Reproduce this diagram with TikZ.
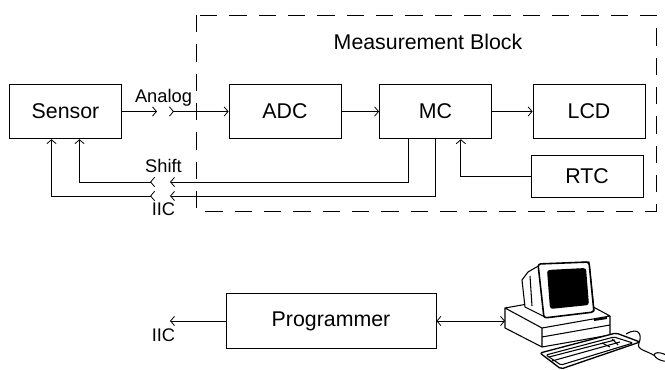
\documentclass[tikz,border=0pt]{standalone}
\usepackage{fontspec}
\setmainfont{Liberation Sans}
\usetikzlibrary{arrows.meta}

\begin{document}
\begin{tikzpicture}[x=0.75pt, y=-0.75pt]
		\tikzset{
			every node/.style={
				font=\fontsize{16}{19}\selectfont,
				inner sep=0pt
			},
			block/.style={
				draw,
				rectangle,
				line width=0.6pt,
				minimum width=84pt,
				minimum height=41pt
			},
			sig/.style={
				font=\fontsize{13.7}{16}\selectfont,
				anchor=base
			},
			wire/.style={
				line width=0.6pt,
				-{Straight Barb[length=3pt, width=7pt]}
			},
			plug/.style={
				line width=0.6pt,
				{Straight Barb[reversed, length=3pt, width=7pt]}-{Straight Barb[length=3pt, width=7pt]}
			},
			both/.style={
				line width=0.6pt,
				{Straight Barb[length=3pt, width=7pt]}-{Straight Barb[length=3pt, width=7pt]}
			},
			frame/.style={
				line width=0.6pt,
				dash pattern=on 13pt off 9pt
			}
		}

		\useasboundingbox (0,0) rectangle (665,370);

		% measurement block
		\draw[frame] (196,15) rectangle (656,211);
		\node[anchor=base] (title) at (428,50)
			{Measurement Block};

		\node[block] (sensor) at (65.5, 111.5)
			{Sensor};
		\node[block] (adc) at (285, 111.5)
			{ADC};
		\node[block] (mc) at (435.5, 111.5)
			{MC};
		\node[block] (lcd) at (589, 111.5)
			{LCD};
		\node[block, minimum height=31.5pt] (rtc) at (587, 176)
			{RTC};

		\node[block, minimum width=157.5pt] (prog) at (331, 321)
			{Programmer};

		% break points of the cables
		\coordinate (ana-a) at (157, 111.5);
		\coordinate (ana-b) at (169, 111.5);
		\coordinate (shift-a) at (170, 182);
		\coordinate (shift-b) at (155, 182);
		\coordinate (iic-a) at (170, 196);
		\coordinate (iic-b) at (155, 196);
		\coordinate (prog-iic) at (170, 321);
		\coordinate (pc) at (505, 321);

		\node[sig] (analog) at (163.5, 103)
			{Analog};
		\node[sig] (shift) at (163.5, 173)
			{Shift};
		\node[sig] (iic) at (163.5, 216)
			{IIC};
		\node[sig] (iic2) at (163.5, 342)
			{IIC};

		\draw[wire] (sensor) -- (ana-a);
		\draw[plug] (ana-b) -- (adc);
		\draw[wire] (adc) -- (mc);
		\draw[wire] (mc) -- (lcd);
		\draw[wire] (rtc) -| ([xshift=19pt]mc.south);

		\draw[wire] ([xshift=-20.5pt]mc.south) |- (shift-a);
		\draw[plug] (shift-b) -| ([xshift=10.5pt]sensor.south);
		\draw[wire] (mc.south) |- (iic-a);
		\draw[plug] (iic-b) -| ([xshift=-10.5pt]sensor.south);

		\draw[wire] (prog) -- (prog-iic);
		\draw[both] (prog) -- (pc);

		% computer
		\begin{scope}[line width=0.8pt, line join=round]
			% system unit
			\draw[fill=white] (505,308) -- (542,328) -- (610,316) -- (573,296) -- cycle;
			\draw (505,308) -- (505,328) -- (542,347) -- (542,328);
			\draw (542,347) -- (610,335) -- (610,316);
			\draw (542,337) -- (610,325);
			\draw[line width=1.5pt] (594,320) -- (607,318);
			% monitor casing
			\draw[fill=white] (540,265) -- (528,272) -- (522,280) -- (525,307) -- (545,317) -- (594,311) -- (589,262) -- cycle;
			\draw (530,276) -- (532,306);
			% bezel and screen
			\draw[fill=white, rounded corners=2pt, line width=1.2pt] (538,264) -- (589,262) -- (594,312) -- (544,318) -- cycle;
			\fill[rounded corners=2pt] (547,270) -- (586,268) -- (589,305) -- (550,309) -- cycle;
			% keyboard
			\draw[fill=white, rounded corners=1.5pt, line width=1pt] (540,353) -- (616,333) -- (640,342) -- (561,369) -- cycle;
			\draw[rounded corners=1pt] (546,355) -- (614,337) -- (633,343) -- (561,365) -- cycle;
			\draw (549,357) -- (615,340);
			\draw (552,361) -- (620,342);
			\draw (602,343) -- (610,347);
			\draw (612,339) -- (618,345);
			% mouse and cable
			\draw (626,334) .. controls (640,326) and (642,336) .. (639,343)
				.. controls (636,350) and (646,350) .. (655,356);
			\draw[fill=white, rotate around={-20:(662,357)}] (662,357) ellipse (8 and 3.5);
		\end{scope}

	\end{tikzpicture}
\end{document}
